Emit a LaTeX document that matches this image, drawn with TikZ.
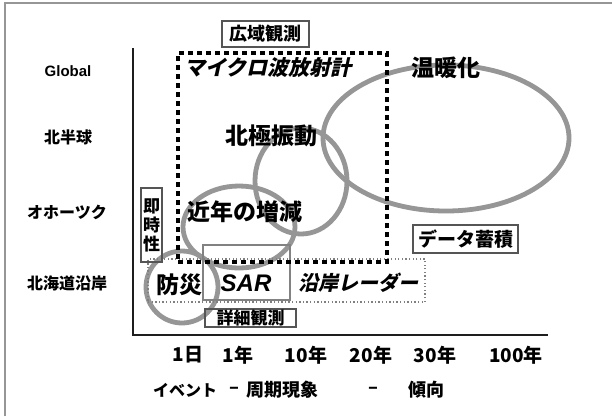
\documentclass[tikz,border=0pt]{standalone}
\usepackage{fontspec}
\setmainfont{Liberation Sans}
\newfontfamily\jp{Noto Sans CJK JP}
\newfontfamily\jpsl{Noto Sans CJK JP}[FakeSlant=0.22, BoldFeatures={FakeSlant=0.22}]
\usetikzlibrary{shapes.geometric}
\definecolor{ringc}{RGB}{150,150,150}
\definecolor{boxc}{RGB}{85,85,85}
\definecolor{framec}{RGB}{150,150,150}
\definecolor{sarc}{RGB}{130,130,130}
\definecolor{axisc}{RGB}{30,30,30}
\newcommand{\myfs}[1]{\fontsize{#1}{#1}\selectfont}
\begin{document}
\begin{tikzpicture}[x=1pt,y=-1pt,
  ring/.style={draw=ringc, line width=4.8pt, ellipse, inner sep=0pt},
  bigdots/.style={draw=black, line width=4.6pt, dash pattern=on 4.6pt off 4.4pt, inner sep=0pt},
  smalldots/.style={draw=gray, line width=1.3pt, dash pattern=on 1.3pt off 2.3pt, inner sep=0pt},
  tagbox/.style={draw=boxc, line width=1.1pt, inner sep=0pt},
  ylab/.style={font=\jp\bfseries\myfs{16}, inner sep=0pt},
  xlab/.style={font=\jp\bfseries\myfs{19}, inner sep=0pt},
  blab/.style={font=\jp\bfseries\myfs{18}, inner sep=0pt},
  big/.style={font=\jp\bfseries\myfs{23}, inner sep=0pt},
  bigit/.style={font=\jpsl\bfseries\myfs{21}, inner sep=0pt}
]
\useasboundingbox (0,0) rectangle (612,416);
\fill[white] (0,0) rectangle (612,416);
% outer frame (top and left edges visible)
\coordinate (fbl) at (5,416);
\coordinate (ftl) at (5,3);
\coordinate (ftr) at (612,3);
\draw[framec, line width=1.4pt] (fbl) -- (ftl) -- (ftr);

% axes
\coordinate (ytop) at (133,48);
\coordinate (orig) at (133,335);
\coordinate (xend) at (548,335);
\draw[axisc, line width=2.2pt] (ytop) -- (orig) -- (xend);

% rings
\node[ring, minimum width=246pt, minimum height=146pt] (warmring) at (446,138) {};
\node[ring, minimum width=92pt, minimum height=106pt] (aoring) at (301,181) {};
\node[ring, minimum width=112pt, minimum height=82pt] (recring) at (239,227) {};
\node[ring, minimum width=72pt, minimum height=72pt] (disring) at (182,287) {};

% boxes
\node[draw=sarc, line width=1.5pt, minimum width=87pt, minimum height=55pt, inner sep=0pt] (sarbox) at (246.5,272.5) {};
\node[smalldots, minimum width=277pt, minimum height=43pt] (coastbox) at (286.5,280.5) {};
\node[bigdots, minimum width=209pt, minimum height=209pt] (widebox) at (282.5,157.5) {};

% tag boxes
\node[tagbox, minimum width=87pt, minimum height=26pt, font=\jp\bfseries\myfs{18}] (wideobs) at (265.5,34) {広域観測};
\node[tagbox, minimum width=105pt, minimum height=28pt, font=\jp\bfseries\myfs{19}] (accum) at (465.5,239) {データ蓄積};
\node[tagbox, minimum width=91pt, minimum height=18pt, font=\jp\bfseries\myfs{17}] (detail) at (250.5,318) {詳細観測};
\node[tagbox, minimum width=21pt, minimum height=74pt, align=center, font=\jp\bfseries\myfs{17}] (rapid) at (151.5,225) {即\\[2pt]時\\[2pt]性};

% main labels
\node[bigit] (mw) at (268,68) {マイクロ波放射計};
\node[big] (warm) at (446,68) {温暖化};
\node[big] (ao) at (271,136) {北極振動};
\node[big] (recent) at (245,212) {近年の増減};
\node[big] (disaster) at (179,285) {防災};
\node[font=\bfseries\itshape\myfs{24}, inner sep=0pt] (sar) at (246,283) {SAR};
\node[bigit, font=\jpsl\bfseries\myfs{20}] (radar) at (358,283) {沿岸レーダー};

% y labels
\node[font=\bfseries\myfs{15}, inner sep=0pt] (yglobal) at (68,71) {Global};
\node[ylab] (ynh) at (68,137) {北半球};
\node[ylab] (yokh) at (67,212) {オホーツク};
\node[ylab] (yhok) at (67,283) {北海道沿岸};

% x labels
\node[xlab] (x1d) at (188,355) {1日};
\node[xlab] (x1y) at (238,355) {1年};
\node[xlab] (x10y) at (306,355) {10年};
\node[xlab] (x20y) at (371,355) {20年};
\node[xlab] (x30y) at (435,355) {30年};
\node[xlab] (x100y) at (516,355) {100年};

% bottom labels
\node[blab, font=\jp\bfseries\myfs{16}] (bevent) at (185,390) {イベント};
\node[blab] (bdash1) at (234,390) {–};
\node[blab] (bperiod) at (282,390) {周期現象};
\node[blab] (bdash2) at (373,390) {–};
\node[blab] (btrend) at (426,390) {傾向};
\end{tikzpicture}
\end{document}
